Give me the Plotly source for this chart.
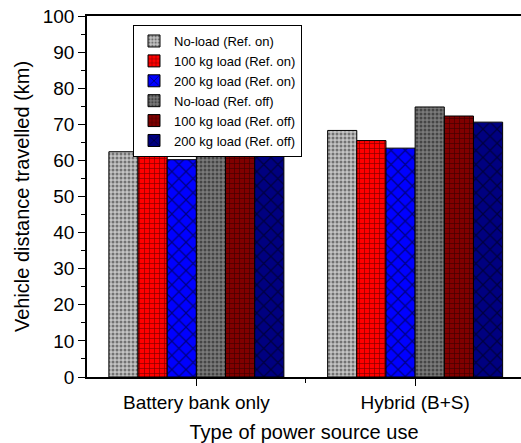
import plotly.graph_objects as go

categories = ["Battery bank only", "Hybrid (B+S)"]
series_names = [
    "No-load (Ref. on)",
    "100 kg load (Ref. on)",
    "200 kg load (Ref. on)",
    "No-load (Ref. off)",
    "100 kg load (Ref. off)",
    "200 kg load (Ref. off)",
]
noload_on = [62.4, 68.3]
load100_on = [61.3, 65.5]
load200_on = [60.2, 63.4]
noload_off = [69.1, 74.8]
load100_off = [68.0, 72.3]
load200_off = [66.2, 70.6]
y_ticks = [0, 10, 20, 30, 40, 50, 60, 70, 80, 90, 100]

series_values = [noload_on, load100_on, load200_on, noload_off, load100_off, load200_off]
styles = [
    dict(color="#c4c4c4", shape=".", fg="#202020", size=4, sol=0.45),
    dict(color="#ff0000", shape="+", fg="#000000", size=5, sol=0.25),
    dict(color="#0000ff", shape="x", fg="#000000", size=10, sol=0.22),
    dict(color="#7a7a7a", shape=".", fg="#101010", size=4, sol=0.45),
    dict(color="#800000", shape="+", fg="#000000", size=5, sol=0.25),
    dict(color="#000080", shape="x", fg="#000000", size=10, sol=0.22),
]

xpos = list(range(len(categories)))
fig = go.Figure()
for name, vals, st in zip(series_names, series_values, styles):
    fig.add_trace(go.Bar(
        x=xpos, y=vals, name=name,
        marker=dict(
            color=st["color"],
            line=dict(color="#000000", width=1),
            pattern=dict(shape=st["shape"], fgcolor=st["fg"], size=st["size"],
                         solidity=st["sol"], fillmode="overlay"),
        ),
    ))

fig.update_layout(
    width=521, height=443,
    margin=dict(l=87, r=0, t=16, b=66),
    paper_bgcolor="white", plot_bgcolor="white",
    barmode="group", bargap=0.2, bargroupgap=0.0,
    font=dict(family="Arial, Liberation Sans, sans-serif", color="#000000"),
    legend=dict(
        x=0.106, y=0.975, xanchor="left", yanchor="top",
        bgcolor="white", bordercolor="#000000", borderwidth=1,
        font=dict(size=13), tracegroupgap=0, itemwidth=30,
    ),
    xaxis=dict(
        range=[-0.5, 1.484],
        tickmode="array", tickvals=xpos, ticktext=categories,
        ticks="outside", ticklen=7, tickwidth=1, tickcolor="#000000",
        minor=dict(tickmode="array", tickvals=[0.5], ticks="outside", ticklen=4,
                   tickcolor="#000000"),
        showline=True, linecolor="#000000", linewidth=1.5, mirror=True,
        showgrid=False, zeroline=False,
        tickfont=dict(size=19),
        title=dict(text="Type of power source use", font=dict(size=20), standoff=14),
    ),
    yaxis=dict(
        range=[0, 100],
        tickmode="array", tickvals=y_ticks,
        ticks="outside", ticklen=7, tickwidth=1, tickcolor="#000000",
        minor=dict(dtick=5, ticks="outside", ticklen=4, tickcolor="#000000"),
        showline=True, linecolor="#000000", linewidth=1.5, mirror=False,
        showgrid=False, zeroline=False,
        tickfont=dict(size=19),
        title=dict(text="Vehicle distance travelled (km)", font=dict(size=20), standoff=8),
    ),
)

fig.write_html("out.html")
